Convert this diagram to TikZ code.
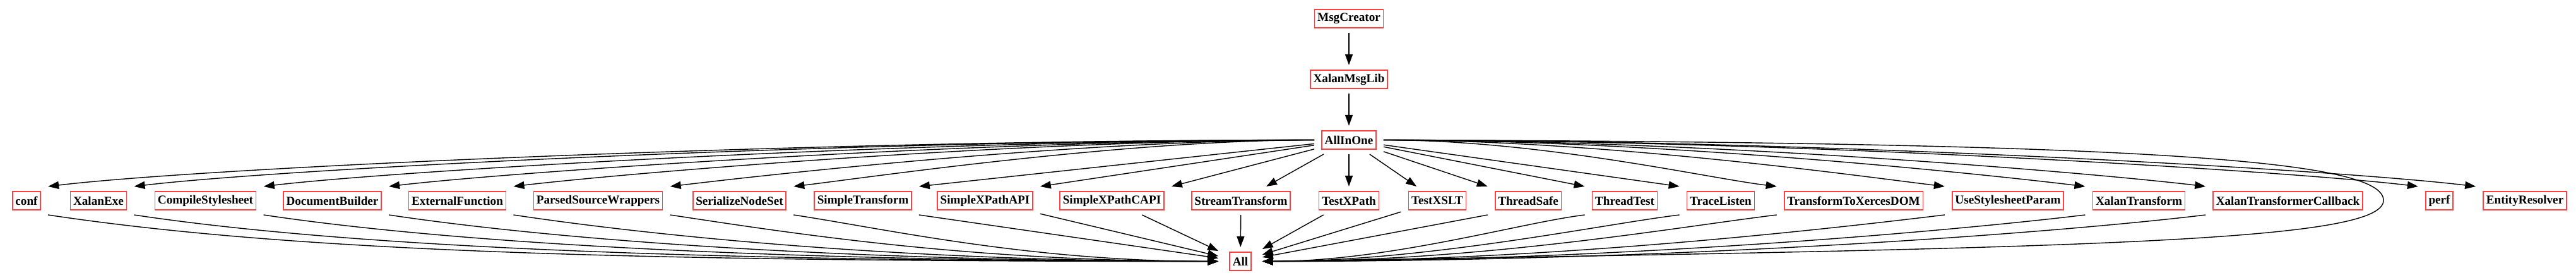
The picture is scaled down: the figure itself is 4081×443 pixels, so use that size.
\documentclass[tikz,border=0pt]{standalone}
\usepackage{fontspec}
\setmainfont{Liberation Serif}
\usetikzlibrary{arrows.meta}
\definecolor{boxred}{RGB}{255,64,64}
\tikzset{
  modbox/.style={draw=boxred, line width=0.45pt, font=\bfseries\fontsize{5.45pt}{6pt}\selectfont,
    inner xsep=1.3pt, inner ysep=0pt, minimum height=0.29cm, outer xsep=0.12cm, outer ysep=0.08cm},
  dep/.style={-{Triangle[length=0.17cm,width=0.12cm]}, line width=0.4pt},
}

\begin{document}
\begin{tikzpicture}[x=0.01cm, y=0.01cm]
\useasboundingbox (0,0) rectangle (4081,443);
\def\rowA{413.5}
\def\rowB{317.5}
\def\rowC{221.5}
\def\rowD{125.5}
\def\rowE{29.5}

% top chain
\node[modbox] (MsgCreator) at (2137,\rowA) {MsgCreator};
\node[modbox] (XalanMsgLib) at (2137,\rowB) {XalanMsgLib};
\node[modbox] (AllInOne) at (2137,\rowC) {AllInOne};

% samples row
\foreach \n/\x in {conf/42, XalanExe/156, CompileStylesheet/325.5, DocumentBuilder/526.5,
    ExternalFunction/724.5, ParsedSourceWrappers/947.5, SerializeNodeSet/1171.5,
    SimpleTransform/1367, SimpleXPathAPI/1560.5, SimpleXPathCAPI/1761.5,
    StreamTransform/1966, TestXPath/2137, TestXSLT/2277, ThreadSafe/2421,
    ThreadTest/2574, TraceListen/2726, TransformToXercesDOM/2936.5,
    UseStylesheetParam/3181, XalanTransform/3388.5, XalanTransformerCallback/3624.5,
    perf/3864.5, EntityResolver/4000}
  \node[modbox] (\n) at (\x,\rowD) {\n};

\node[modbox, outer xsep=0.18cm] (All) at (1965,\rowE) {All};
\coordinate (loopturn) at (3776,126);

\draw[dep] (MsgCreator) -- (XalanMsgLib);
\draw[dep] (XalanMsgLib) -- (AllInOne);

% AllInOne to the samples, left half
\foreach \n/\reach/\drop in {conf/800/250, XalanExe/750/230, CompileStylesheet/650/200,
    DocumentBuilder/550/180, ExternalFunction/480/160, ParsedSourceWrappers/380/140,
    SerializeNodeSet/300/120}
  \draw[dep] (AllInOne.west) .. controls +(-\reach,0) and +(\drop,0.12*\drop) .. (\n.north east);
\foreach \n in {SimpleTransform, SimpleXPathAPI, SimpleXPathCAPI}
  \draw[dep] (AllInOne) -- (\n.north east);
\draw[dep] (AllInOne) -- (StreamTransform);
\draw[dep] (AllInOne) -- (TestXPath);

% AllInOne to the samples, right half
\draw[dep] (AllInOne) -- (TestXSLT);
\foreach \n in {ThreadSafe, ThreadTest, TraceListen}
  \draw[dep] (AllInOne) -- (\n.north west);
\foreach \n/\reach/\drop in {TransformToXercesDOM/250/110, UseStylesheetParam/350/130,
    XalanTransform/450/150, XalanTransformerCallback/520/170, perf/650/200,
    EntityResolver/700/220}
  \draw[dep] (AllInOne.east) .. controls +(\reach,0) and +(-\drop,0.12*\drop) .. (\n.north west);

% samples to All
\foreach \n/\reach/\drop in {conf/900/400, XalanExe/800/350, CompileStylesheet/700/300,
    DocumentBuilder/600/260, ExternalFunction/500/220, ParsedSourceWrappers/400/180,
    SerializeNodeSet/300/140}
  \draw[dep] (\n.south east) .. controls +(\drop,-0.15*\drop) and +(-\reach,0) .. (All.west);
\draw[dep] (SimpleTransform.south east) -- (All);
\foreach \n in {SimpleXPathAPI, SimpleXPathCAPI, StreamTransform, TestXPath, TestXSLT}
  \draw[dep] (\n) -- (All);
\draw[dep] (ThreadSafe.south west) -- (All);
\foreach \n/\reach/\drop in {ThreadTest/200/100, TraceListen/260/120,
    TransformToXercesDOM/350/150, UseStylesheetParam/450/190,
    XalanTransform/550/220, XalanTransformerCallback/650/250}
  \draw[dep] (\n.south west) .. controls +(-\drop,-0.12*\drop) and +(\reach,0) .. (All.east);

% AllInOne straight to All, round the right end
\draw[dep] (AllInOne.east) .. controls (3400,218) and (3776,190) .. (loopturn)
  .. controls (3776,60) and (3300,50) .. (All.east);
\end{tikzpicture}
\end{document}
